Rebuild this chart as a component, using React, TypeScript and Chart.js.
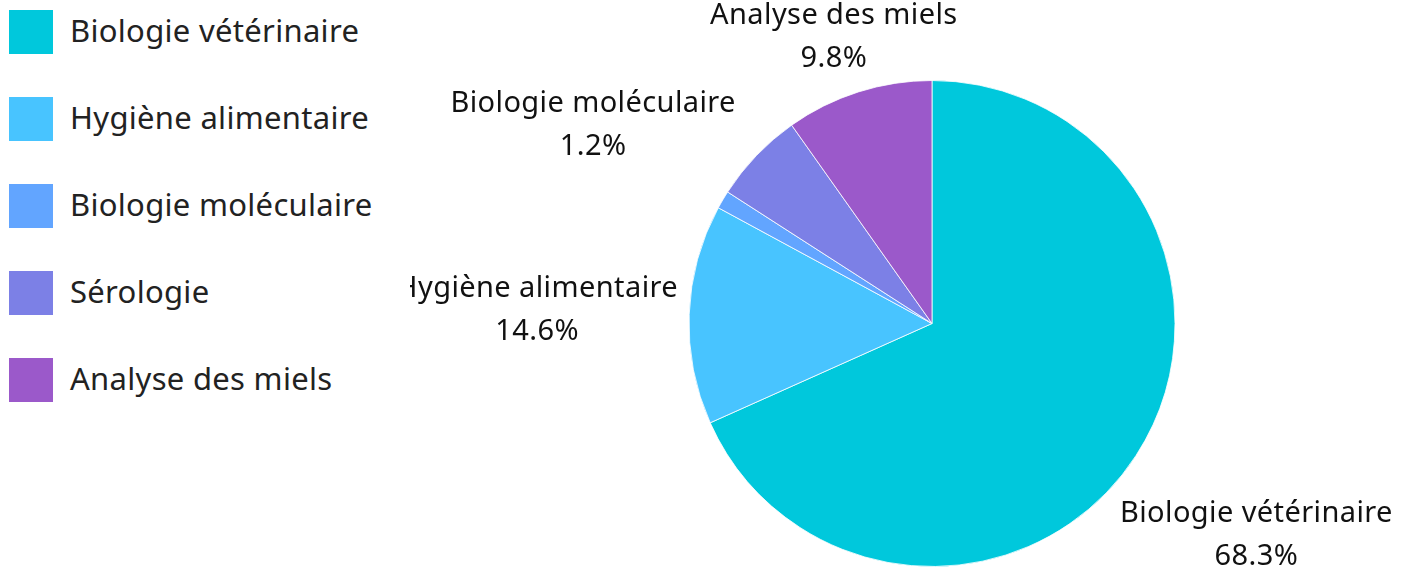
import React, { useEffect, useRef } from "react";
import { Chart, registerables } from "chart.js";

Chart.register(...registerables);

const categories = [
  "Biologie vétérinaire",
  "Hygiène alimentaire",
  "Biologie moléculaire",
  "Sérologie",
  "Analyse des miels",
];
const shares = [68.3, 14.6, 1.2, 6.1, 9.8];
const colors = ["#00C8DC", "#48C4FF", "#62A5FF", "#7C80E6", "#9B59CA"];

const FONT = "'Noto Sans', Roboto, sans-serif";

const outerLabels = {
  id: "outerLabels",
  afterDatasetsDraw(chart: any) {
    const ctx = chart.ctx;
    const meta = chart.getDatasetMeta(0);
    const total = shares.reduce((a, b) => a + b, 0);
    const placed: { l: number; r: number; t: number; b: number }[] = [];
    ctx.save();
    ctx.font = `29px ${FONT}`;
    try {
      (ctx as any).letterSpacing = "0.4px";
    } catch (e) {}
    ctx.fillStyle = "#111";
    ctx.textAlign = "center";
    ctx.textBaseline = "alphabetic";
    meta.data.forEach((arc: any, i: number) => {
      const p = arc.getProps(["x", "y", "startAngle", "endAngle", "outerRadius"], true);
      const mid = (p.startAngle + p.endAngle) / 2;
      const vx = Math.cos(mid);
      const vy = Math.sin(mid);
      const l1 = categories[i];
      const l2 = ((shares[i] / total) * 100).toFixed(1) + "%";
      const w = Math.max(ctx.measureText(l1).width, ctx.measureText(l2).width);
      const hh = 35;
      const d = p.outerRadius + 10 + (Math.abs(vx) * w) / 2 + Math.abs(vy) * hh;
      const cx = p.x + vx * d;
      let cy = p.y + vy * d;
      cy = Math.max(hh, Math.min(chart.height - hh, cy));
      const box = { l: cx - w / 2, r: cx + w / 2, t: cy - hh, b: cy + hh };
      const hit = placed.some(
        (o) => box.l < o.r && box.r > o.l && box.t < o.b && box.b > o.t
      );
      if (hit) return;
      placed.push(box);
      ctx.fillText(l1, cx, cy - 11.5);
      ctx.fillText(l2, cx, cy + 31.5);
    });
    ctx.restore();
  },
};

export default function App() {
  const ref = useRef<HTMLCanvasElement | null>(null);

  useEffect(() => {
    if (!ref.current) return;
    const chart = new Chart(ref.current, {
      type: "pie",
      data: {
        labels: categories,
        datasets: [
          {
            data: shares,
            backgroundColor: colors,
            borderColor: "rgba(255,255,255,0.8)",
            borderWidth: 1,
          },
        ],
      },
      options: {
        responsive: false,
        animation: false,
        layout: { padding: { top: 80, bottom: 4, left: 600, right: 138 } },
        plugins: {
          legend: { display: false },
          tooltip: { enabled: false },
        },
      },
      plugins: [outerLabels],
    });
    return () => chart.destroy();
  }, []);

  return (
    <div
      style={{
        position: "fixed",
        left: 0,
        top: 0,
        width: 1402,
        height: 571,
        background: "#fff",
        overflow: "hidden",
      }}
    >
      <canvas
        ref={ref}
        width={1402}
        height={571}
        style={{ position: "absolute", left: 0, top: 0 }}
      />
      <div
        style={{
          position: "absolute",
          left: 0,
          top: 0,
          width: 410,
          height: 571,
          background: "#fff",
          zIndex: 2,
        }}
      >
        {categories.map((c, i) => (
          <div
            key={c}
            style={{
              position: "absolute",
              left: 9,
              top: 10 + i * 87,
              height: 44,
              display: "flex",
              alignItems: "center",
              whiteSpace: "nowrap",
            }}
          >
            <span
              style={{
                display: "inline-block",
                width: 44,
                height: 44,
                background: colors[i],
              }}
            />
            <span
              style={{
                marginLeft: 17,
                fontFamily: FONT,
                fontSize: 31,
                letterSpacing: "0.3px",
                color: "#222",
                lineHeight: "44px",
                position: "relative",
                top: -2,
              }}
            >
              {c}
            </span>
          </div>
        ))}
      </div>
    </div>
  );
}
